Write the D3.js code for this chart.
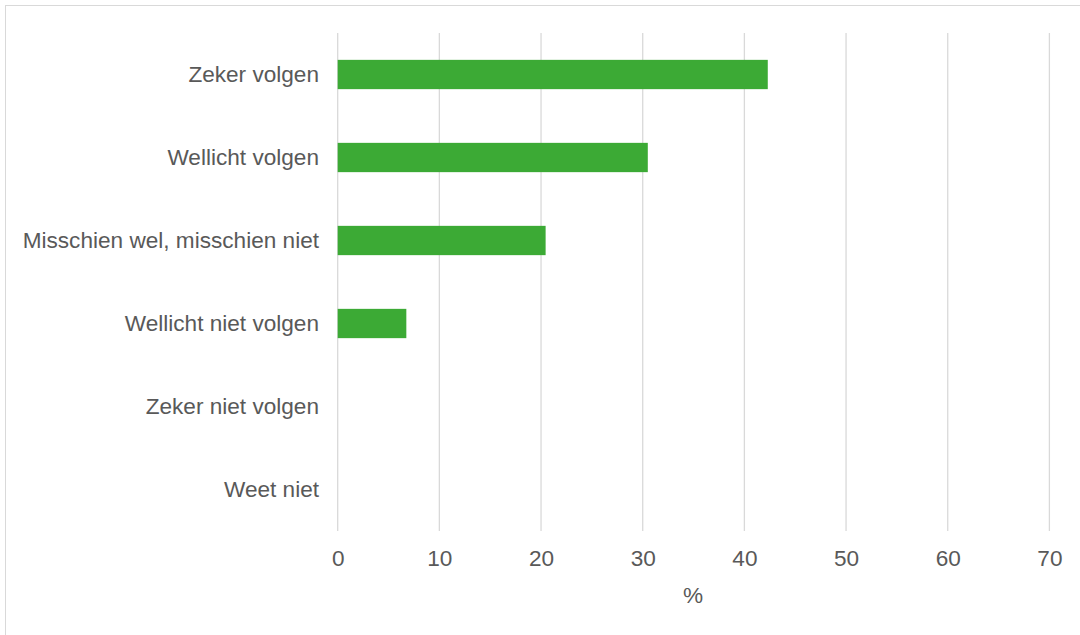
<!DOCTYPE html>
<html><head><meta charset="utf-8">
<script src="https://cdn.jsdelivr.net/npm/d3@7"></script>
<style>html,body{margin:0;padding:0;background:#fff;}svg{display:block;}</style>
</head><body>
<script>
const categories = ["Zeker volgen","Wellicht volgen","Misschien wel, misschien niet","Wellicht niet volgen","Zeker niet volgen","Weet niet"];
const values = [42.3, 30.5, 20.45, 6.75, 0, 0];
const xTicks = [0,10,20,30,40,50,60,70];
const xTitle = "%";

const W = 1080, H = 635;
const svg = d3.select("body").append("svg").attr("width", W).attr("height", H);
svg.append("rect").attr("x",5.5).attr("y",5.5).attr("width",W+10).attr("height",H+10)
  .attr("fill","#fff").attr("stroke","#d9d9d9").attr("stroke-width",1);

const x = d3.scaleLinear().domain([0,70]).range([337.7,1049.4]);
const y = d3.scaleBand().domain(categories).range([33,531]).paddingInner(0.647).paddingOuter(0.3235);

const grid = svg.append("g");
grid.selectAll("line").data(xTicks).join("line")
  .attr("x1",d=>x(d)).attr("x2",d=>x(d)).attr("y1",33).attr("y2",531)
  .attr("stroke","#d9d9d9").attr("stroke-width",1.3);

svg.append("g").selectAll("rect").data(categories).join("rect")
  .attr("x",x(0)).attr("y",d=>y(d))
  .attr("width",(d,i)=>x(values[i])-x(0)).attr("height",y.bandwidth())
  .attr("fill","#3caa35");

const font = "'Liberation Sans', Arial, sans-serif";
const fs = 22.6;
const xAxis = svg.append("g").attr("transform","translate(0,531)")
  .call(d3.axisBottom(x).tickValues(xTicks).tickSize(0).tickPadding(0));
xAxis.select(".domain").remove();
xAxis.selectAll("text").attr("font-family",font).attr("font-size",fs).attr("fill","#595959")
  .attr("dy",null).attr("y",35);

const yAxis = svg.append("g").attr("transform","translate(319,0)")
  .call(d3.axisLeft(y).tickSize(0).tickPadding(0));
yAxis.select(".domain").remove();
yAxis.selectAll("text").attr("font-family",font).attr("font-size",fs).attr("fill","#595959");

svg.append("text").attr("x",693).attr("y",603).attr("text-anchor","middle")
  .attr("font-family",font).attr("font-size",fs).attr("fill","#595959").text(xTitle);
</script>
</body></html>
